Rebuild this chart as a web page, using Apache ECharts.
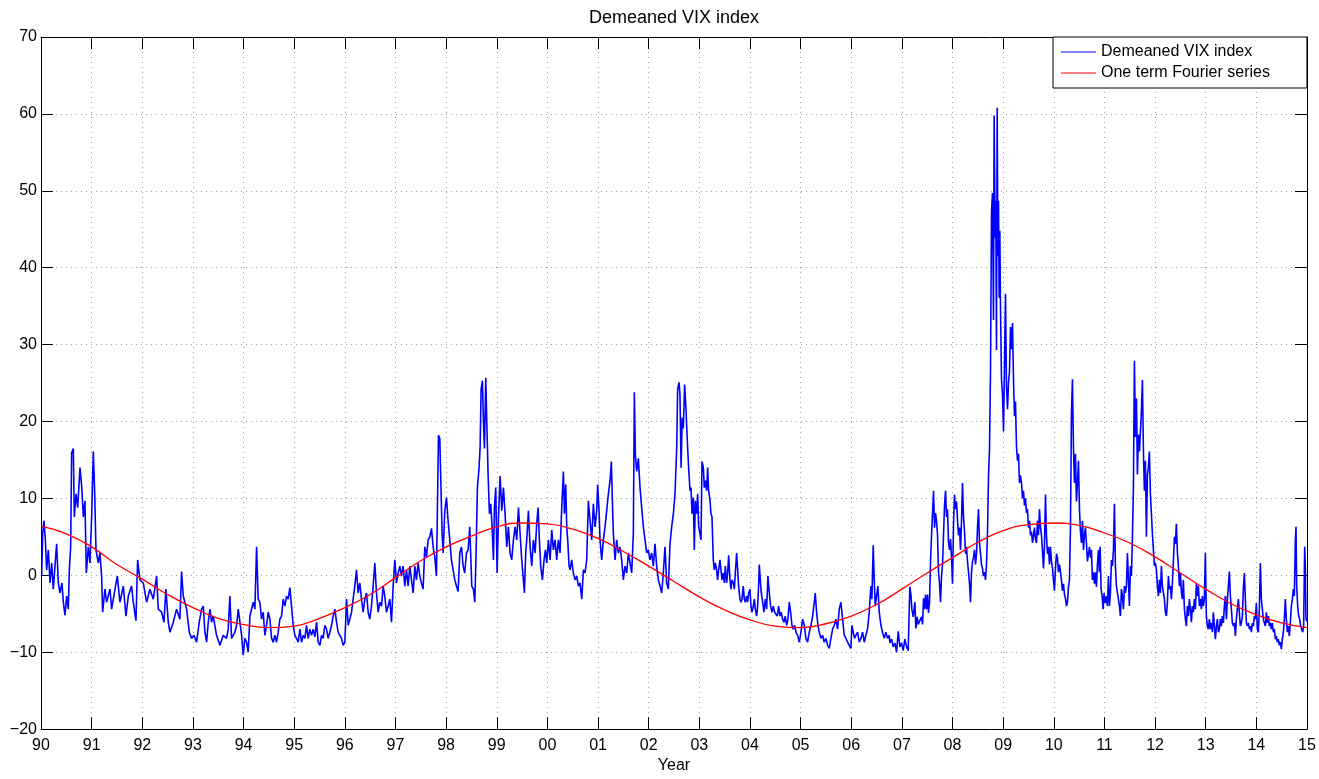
<!DOCTYPE html>
<html>
<head>
<meta charset="utf-8">
<script src="https://cdn.jsdelivr.net/npm/echarts@6/dist/echarts.min.js"></script>
<style>
html,body{margin:0;padding:0;background:#ffffff;}
#chart{width:1319px;height:779px;}
</style>
</head>
<body>
<div id="chart"></div>
<script>
// ---- Data (x = years since 1990, y = demeaned VIX level) ----
const startYear = 1990;
const yearSpan = [0, 25];
const valueRange = [-20, 70];
const seriesNames = ['Demeaned VIX index', 'One term Fourier series'];

const vixPoints = [
[0.013,-0.1],[0.033,5.4],[0.059,7.1],[0.086,4.6],[0.112,0.7],[0.145,3.3],[0.178,-1.0],[0.211,1.6],[0.243,-1.8],[0.276,1.2],[0.309,4.1],[0.342,-1.0],[0.375,-2.3],[0.414,-1.0],[0.441,-3.5],[0.474,-5.2],[0.507,-2.7],[0.539,-4.4],[0.559,0.7],[0.586,3.7],[0.605,15.9],[0.638,16.5],[0.658,7.6],[0.691,10.6],[0.724,8.8],[0.770,14.0],[0.803,11.6],[0.836,7.6],[0.868,9.7],[0.895,0.3],[0.934,3.7],[0.967,1.6],[1.0,7.6],[1.033,16.1],[1.059,11.0],[1.086,3.3],[1.132,1.6],[1.164,2.9],[1.197,-0.1],[1.217,-4.8],[1.263,-1.8],[1.296,-3.5],[1.362,-1.8],[1.395,-4.4],[1.461,-1.8],[1.507,-0.1],[1.559,-3.5],[1.625,-1.4],[1.678,-5.3],[1.724,-2.7],[1.789,-1.4],[1.822,-3.5],[1.875,-5.9],[1.908,2.0],[1.954,-0.6],[2.020,-1.0],[2.086,-3.5],[2.151,-1.8],[2.217,-3.1],[2.283,-0.1],[2.316,-4.4],[2.382,-4.8],[2.428,-6.1],[2.467,-1.8],[2.513,-6.1],[2.546,-7.4],[2.612,-6.1],[2.678,-4.4],[2.743,-5.7],[2.776,0.5],[2.809,-2.7],[2.875,-4.4],[2.928,-7.4],[2.974,-8.2],[3.020,-7.8],[3.072,-8.7],[3.125,-6.1],[3.171,-4.4],[3.204,-4.0],[3.237,-7.4],[3.270,-8.7],[3.303,-6.1],[3.336,-4.4],[3.368,-6.1],[3.401,-5.3],[3.467,-7.8],[3.533,-9.1],[3.599,-7.8],[3.664,-8.2],[3.697,-7.0],[3.730,-2.7],[3.763,-8.2],[3.829,-7.4],[3.862,-6.5],[3.895,-4.4],[3.928,-6.1],[3.961,-7.8],[3.993,-10.4],[4.026,-8.2],[4.059,-8.7],[4.092,-10.0],[4.125,-5.3],[4.191,-3.5],[4.224,-4.4],[4.257,3.7],[4.289,-3.1],[4.322,-3.5],
[4.355,-5.7],[4.388,-4.8],[4.421,-7.8],[4.454,-6.5],[4.487,-4.8],[4.520,-5.7],[4.553,-8.2],[4.586,-8.7],[4.618,-7.8],[4.651,-8.7],[4.684,-7.4],[4.717,-5.7],[4.750,-5.3],[4.783,-3.1],[4.816,-4.0],[4.849,-2.7],[4.882,-3.1],[4.914,-1.6],[4.947,-4.0],[4.980,-6.5],[5.013,-7.8],[5.046,-8.2],[5.079,-8.7],[5.112,-7.0],[5.145,-8.7],[5.178,-7.8],[5.211,-8.2],[5.243,-6.5],[5.276,-8.2],[5.309,-7.0],[5.342,-7.8],[5.375,-7.0],[5.408,-8.0],[5.441,-6.1],[5.474,-8.7],[5.507,-9.1],[5.539,-7.8],[5.572,-8.2],[5.605,-6.5],[5.638,-7.0],[5.671,-8.2],[5.704,-7.4],[5.737,-6.5],[5.770,-5.3],[5.803,-4.4],[5.836,-6.1],[5.868,-7.4],[5.901,-7.8],[5.934,-8.2],[5.967,-9.1],[6.000,-8.7],[6.033,-3.1],[6.066,-6.5],[6.099,-5.7],[6.132,-4.8],[6.164,-3.1],[6.197,-1.4],[6.230,0.7],[6.263,-2.3],[6.296,-1.0],[6.329,-3.1],[6.362,-4.8],[6.395,-3.1],[6.428,-2.3],[6.461,-4.8],[6.493,-5.7],[6.526,-4.0],[6.559,-1.4],[6.592,1.6],[6.625,-2.3],[6.658,-4.8],[6.691,-3.5],[6.724,-4.0],[6.757,-1.4],[6.789,-2.7],[6.822,-4.8],[6.855,-4.0],[6.888,-3.1],[6.921,-6.1],[6.954,-1.4],[6.987,2.0],[7.020,-1.0],[7.053,0.3],[7.086,1.2],[7.118,-0.1],[7.151,1.2],[7.184,-1.4],[7.217,0.7],[7.250,-1.4],[7.283,1.2],[7.316,-0.6],[7.349,-2.3],[7.382,1.2],[7.414,-0.6],[7.447,1.6],[7.480,-0.1],[7.513,-1.0],[7.546,-1.8],[7.579,3.7],[7.612,2.4],[7.645,4.6],[7.678,5.0],[7.711,6.1],[7.743,3.7],[7.776,2.4],[7.809,-0.1],[7.829,-0.3],[7.849,18.2],[7.875,17.8],[7.895,12.3],[7.921,5.4],[7.941,2.9],[7.974,8.4],[8.007,10.1],[8.039,7.1],[8.072,4.6],[8.105,2.0],[8.138,0.7],[8.171,-0.6],[8.204,-1.4],[8.237,-2.1],[8.270,2.9],[8.303,3.7],[8.336,1.2],[8.368,0.3],[8.401,2.9],[8.434,3.3],[8.467,6.3],
[8.507,-1.4],[8.539,-1.8],[8.566,-3.5],[8.592,2.9],[8.618,11.4],[8.645,13.5],[8.671,16.5],[8.691,24.2],[8.717,25.3],[8.737,20.0],[8.757,16.5],[8.783,25.7],[8.803,20.0],[8.829,13.1],[8.855,8.0],[8.882,9.3],[8.908,6.3],[8.934,2.0],[8.954,8.8],[8.980,11.4],[9.007,0.3],[9.033,7.4],[9.066,12.9],[9.099,8.4],[9.132,11.4],[9.164,8.0],[9.197,3.7],[9.230,6.3],[9.263,2.9],[9.296,2.0],[9.329,4.6],[9.362,6.3],[9.395,4.6],[9.428,8.8],[9.461,5.4],[9.493,2.0],[9.526,-0.6],[9.546,-2.3],[9.572,2.9],[9.592,4.6],[9.625,8.4],[9.658,3.7],[9.691,1.2],[9.724,4.6],[9.757,2.9],[9.789,6.7],[9.816,8.8],[9.842,4.6],[9.868,1.2],[9.901,-0.6],[9.934,2.0],[9.961,3.3],[9.987,1.6],[10.020,4.6],[10.053,2.0],[10.086,5.9],[10.118,3.3],[10.151,4.6],[10.184,2.0],[10.217,4.6],[10.250,2.9],[10.283,8.8],[10.316,13.5],[10.336,8.0],[10.362,11.8],[10.382,6.3],[10.401,4.6],[10.428,1.2],[10.447,0.7],[10.480,2.0],[10.513,0.3],[10.546,-0.6],[10.579,-0.1],[10.612,-1.4],[10.645,-1.0],[10.678,-3.1],[10.711,0.7],[10.743,0.3],[10.776,2.0],[10.809,9.7],[10.842,7.1],[10.875,4.6],[10.908,9.3],[10.941,6.3],[10.974,8.4],[10.993,11.8],[11.020,8.4],[11.039,4.6],[11.072,2.0],[11.105,4.6],[11.138,6.3],[11.171,8.4],[11.204,10.6],[11.237,12.3],[11.263,14.8],[11.283,9.7],[11.303,5.4],[11.336,2.0],[11.368,4.6],[11.401,2.9],[11.434,3.7],[11.467,2.0],[11.500,-0.6],[11.533,1.2],[11.566,0.3],[11.599,2.9],[11.632,1.6],[11.664,0.3],[11.697,5.4],[11.717,23.8],[11.737,15.7],[11.763,13.5],[11.796,15.2],[11.829,11.4],[11.862,8.8],[11.895,6.3],[11.928,4.6],[11.961,2.9],[11.993,3.3],[12.026,2.0],[12.059,2.9],[12.092,1.2],[12.125,4.1],[12.158,1.2],[12.191,-0.6],[12.224,-1.4],[12.257,-2.3],[12.289,0.3],[12.322,3.7],[12.355,-1.0],[12.388,-1.8],[12.421,4.1],[12.454,6.3],[12.487,8.0],[12.520,10.6],[12.553,16.5],[12.572,24.2],[12.599,25.1],[12.618,23.5],[12.640,14.0],[12.662,20.5],[12.684,19.1],[12.710,24.8],[12.737,21.5],
[12.770,16.5],[12.789,14.0],[12.816,11.0],[12.836,11.4],[12.855,8.0],[12.882,10.1],[12.901,3.3],[12.921,9.7],[12.947,8.0],[12.967,10.6],[12.987,6.3],[13.013,5.4],[13.033,4.6],[13.053,14.8],[13.079,14.0],[13.099,11.4],[13.118,12.3],[13.145,11.0],[13.164,14.0],[13.184,11.0],[13.211,9.7],[13.230,8.0],[13.250,7.6],[13.276,2.0],[13.296,0.7],[13.316,1.6],[13.342,0.7],[13.362,-0.6],[13.382,0.7],[13.408,2.0],[13.428,0.7],[13.447,-0.6],[13.474,0.3],[13.493,-1.0],[13.513,1.2],[13.539,-1.0],[13.559,0.3],[13.579,2.6],[13.605,-0.6],[13.625,-1.8],[13.645,-0.6],[13.671,-1.0],[13.691,-1.8],[13.711,0.3],[13.737,2.9],[13.757,0.7],[13.776,-1.4],[13.803,-3.1],[13.822,-3.5],[13.842,-3.1],[13.868,-1.4],[13.888,-3.1],[13.908,-3.5],[13.934,-2.7],[13.954,-3.5],[13.974,-2.3],[14.000,-1.8],[14.020,-4.0],[14.039,-4.8],[14.066,-4.0],[14.086,-3.1],[14.105,-4.4],[14.132,-5.3],[14.151,-4.0],[14.171,-1.4],[14.184,1.4],[14.204,-0.6],[14.224,-2.3],[14.250,-3.5],[14.276,-4.8],[14.303,-3.1],[14.329,-4.4],[14.355,-0.1],[14.382,-2.3],[14.408,-4.0],[14.434,-4.8],[14.461,-4.0],[14.487,-4.8],[14.513,-4.8],[14.539,-5.3],[14.566,-4.0],[14.592,-5.3],[14.618,-4.8],[14.645,-5.7],[14.671,-6.1],[14.697,-5.3],[14.724,-6.5],[14.750,-5.7],[14.776,-3.5],[14.803,-4.8],[14.829,-6.5],[14.855,-7.0],[14.882,-6.5],[14.908,-7.4],[14.941,-7.8],[14.974,-8.7],[15.007,-7.4],[15.039,-5.7],[15.072,-6.5],[15.105,-8.2],[15.138,-8.7],[15.171,-7.4],[15.204,-6.5],[15.237,-5.3],[15.270,-3.5],[15.289,-2.3],[15.316,-4.8],[15.342,-6.5],[15.368,-7.4],[15.401,-8.2],[15.434,-7.8],[15.467,-8.7],[15.500,-8.2],[15.533,-9.1],[15.566,-9.5],[15.599,-8.2],[15.632,-7.0],[15.664,-6.5],[15.697,-5.7],[15.730,-7.0],[15.763,-4.4],[15.796,-3.5],[15.829,-5.7],[15.862,-7.8],[15.895,-8.2],[15.928,-8.7],[15.961,-9.1],[15.993,-9.5],[16.013,-6.5],[16.039,-7.4],[16.066,-8.2],[16.092,-7.8],[16.125,-7.4],[16.158,-8.7],[16.191,-8.2],[16.224,-7.4],[16.257,-8.7],[16.289,-7.8],[16.322,-7.0],[16.355,-4.8],[16.388,-1.4],[16.408,-3.1],[16.434,3.9],[16.454,-0.6],[16.474,-4.0],[16.500,-2.7],[16.526,-1.4],[16.553,-4.8],[16.586,-6.5],[16.618,-7.4],[16.651,-8.2],[16.684,-7.4],[16.717,-8.2],[16.750,-7.8],
[16.763,-8.8],[16.796,-8.3],[16.829,-9.3],[16.862,-8.8],[16.895,-10.0],[16.928,-7.3],[16.961,-9.3],[16.993,-8.8],[17.026,-9.8],[17.059,-8.3],[17.092,-9.3],[17.125,-9.8],[17.145,-4.4],[17.158,-1.5],[17.178,-2.5],[17.197,-4.4],[17.224,-5.4],[17.257,-3.5],[17.276,-6.9],[17.303,-5.4],[17.322,-6.4],[17.355,-5.9],[17.388,-5.4],[17.408,-6.4],[17.428,-3.0],[17.447,-4.4],[17.467,-2.5],[17.487,-4.4],[17.507,-2.5],[17.526,-4.9],[17.546,-3.5],[17.566,1.8],[17.586,5.2],[17.605,8.1],[17.625,11.0],[17.645,6.2],[17.664,8.1],[17.684,7.1],[17.704,5.2],[17.724,0.4],[17.743,-1.0],[17.763,-3.5],[17.783,-0.1],[17.803,1.4],[17.822,5.2],[17.842,9.1],[17.862,11.0],[17.882,7.6],[17.901,8.6],[17.921,4.3],[17.941,3.3],[17.961,4.7],[17.980,2.3],[18.000,-1.1],[18.020,6.7],[18.039,10.5],[18.059,8.6],[18.079,9.6],[18.099,7.1],[18.118,5.2],[18.138,6.2],[18.158,3.3],[18.178,7.1],[18.197,12.0],[18.217,7.6],[18.237,5.7],[18.257,2.8],[18.276,3.7],[18.296,1.8],[18.316,0.4],[18.336,-1.1],[18.355,-3.5],[18.375,0.4],[18.395,1.8],[18.414,2.3],[18.434,3.3],[18.454,1.4],[18.474,2.8],[18.493,6.2],[18.513,8.6],[18.533,4.2],[18.553,2.8],[18.572,1.4],[18.592,0.9],[18.612,-0.1],[18.632,0.4],[18.651,-0.6],[18.671,1.4],[18.691,5.7],[18.711,12.9],[18.730,16.3],[18.750,26.5],[18.770,47.2],[18.789,49.7],[18.809,33.2],[18.822,59.8],[18.842,43.9],[18.855,48.7],[18.868,29.3],[18.882,60.8],[18.895,41.5],[18.908,48.7],[18.921,36.1],[18.934,44.8],[18.947,35.2],[18.967,25.5],[18.987,23.6],[19.007,18.7],[19.026,27.0],[19.046,36.6],[19.066,24.5],[19.086,21.6],[19.105,25.0],[19.125,26.5],[19.145,32.3],[19.164,29.4],[19.184,32.8],[19.204,25.5],[19.224,20.7],[19.243,22.6],[19.263,16.8],[19.283,14.9],[19.303,15.8],[19.322,12.0],[19.342,13.0],[19.362,12.0],[19.382,10.0],[19.401,11.0],[19.421,9.1],[19.441,10.0],[19.461,8.1],[19.480,8.6],[19.500,6.2],[19.520,7.1],[19.539,5.2],[19.559,5.7],[19.579,4.2],[19.599,5.2],[19.618,6.2],[19.638,4.7],[19.658,4.2],[19.678,7.1],[19.697,5.2],[19.717,8.6],[19.737,6.2],[19.757,5.2],[19.776,3.3],[19.796,0.9],[19.816,3.8],[19.836,10.5],[19.855,5.2],[19.875,2.8],[19.895,3.7],[19.914,1.4],[19.934,3.7],[19.954,1.8],[19.974,0.9],[19.993,-0.6],[20.013,-2.0],[20.033,0.9],[20.053,2.8],[20.072,2.3],[20.092,0.4],[20.112,1.4],[20.132,0.4],[20.151,-0.6],[20.171,-2.0],[20.191,-1.1],[20.211,-2.5],[20.230,-3.0],[20.250,-4.0],[20.270,-3.5],[20.289,-1.5],[20.309,-0.6],[20.329,6.2],[20.349,21.2],[20.368,25.5],[20.388,16.8],[20.408,12.0],[20.428,15.8],[20.447,9.6],[20.467,12.0],[20.487,14.9],[20.507,8.6],[20.526,5.7],[20.546,4.2],[20.566,7.1],[20.586,3.3],[20.605,5.2],[20.625,6.2],[20.645,4.2],[20.664,1.8],[20.684,2.8],[20.704,3.7],[20.724,2.3],[20.743,3.3],[20.763,-0.6],[20.783,0.4],[20.803,-1.1],[20.822,0.4],[20.842,-1.5],[20.862,1.4],[20.882,3.3],[20.901,0.4],
[20.914,3.7],[20.934,-1.8],[20.954,-2.7],[20.974,-4.4],[20.993,-2.3],[21.013,-3.6],[21.039,-2.7],[21.059,-4.0],[21.079,-0.1],[21.099,-4.0],[21.118,-2.3],[21.138,2.0],[21.158,1.2],[21.178,3.3],[21.197,9.3],[21.217,1.2],[21.237,-1.4],[21.257,-2.3],[21.276,-3.1],[21.296,-4.0],[21.316,-5.3],[21.336,-1.8],[21.355,-2.7],[21.375,-4.4],[21.395,-1.4],[21.414,-2.3],[21.434,-1.4],[21.454,2.9],[21.474,-0.6],[21.493,-4.0],[21.513,1.2],[21.533,-0.1],[21.553,5.0],[21.572,11.4],[21.592,27.9],[21.612,18.0],[21.632,23.0],[21.651,13.1],[21.671,18.3],[21.691,16.1],[21.711,18.7],[21.730,21.3],[21.750,25.4],[21.770,16.1],[21.789,11.0],[21.809,14.9],[21.829,5.0],[21.849,13.1],[21.868,14.0],[21.888,16.1],[21.908,10.5],[21.928,8.0],[21.947,5.4],[21.967,3.3],[21.987,1.2],[22.007,1.6],[22.026,0.7],[22.046,-1.4],[22.066,-2.7],[22.086,-0.6],[22.105,-2.3],[22.125,1.2],[22.145,-1.4],[22.164,-1.4],[22.184,-3.1],[22.204,-4.8],[22.224,-5.3],[22.243,-3.6],[22.263,-0.1],[22.283,-1.8],[22.303,-1.4],[22.322,-3.1],[22.342,-1.0],[22.362,2.0],[22.382,5.0],[22.401,4.1],[22.421,6.7],[22.441,2.9],[22.461,1.2],[22.480,-1.4],[22.500,0.3],[22.520,-2.3],[22.539,-3.1],[22.559,-0.6],[22.579,-4.4],[22.599,-5.7],[22.618,-6.6],[22.638,-4.0],[22.658,-5.3],[22.678,-3.1],[22.697,-4.4],[22.717,-6.1],[22.737,-4.0],[22.757,-4.8],[22.776,-3.1],[22.796,-4.4],[22.816,-1.0],[22.836,-2.7],[22.855,-1.4],[22.875,-4.0],[22.895,-3.1],[22.914,-4.4],[22.934,-2.7],[22.954,-4.0],[22.974,-3.1],[22.993,2.9],[23.013,-5.3],[23.033,-6.6],[23.053,-7.0],[23.072,-5.7],[23.092,-7.0],[23.112,-6.2],[23.132,-7.4],[23.151,-4.8],[23.171,-6.6],[23.191,-8.3],[23.211,-6.6],[23.230,-5.7],[23.250,-7.4],[23.270,-7.0],[23.289,-5.7],[23.309,-6.6],[23.329,-5.3],[23.349,-6.2],[23.368,-4.0],[23.388,-2.7],[23.408,-5.7],[23.428,-3.1],[23.447,-1.4],[23.467,0.5],[23.487,-2.7],[23.507,-4.4],[23.526,-6.2],[23.546,-6.6],[23.566,-6.2],[23.586,-7.9],[23.605,-5.7],[23.625,-4.4],[23.645,-3.1],[23.664,-4.8],[23.684,-6.6],[23.704,-6.2],[23.724,-5.3],[23.743,-1.8],[23.763,0.3],[23.783,-3.1],[23.803,-6.2],[23.822,-6.6],[23.842,-6.2],[23.862,-7.0],[23.882,-6.6],[23.901,-7.4],[23.921,-6.2],[23.941,-6.6],[23.961,-5.3],[23.980,-5.7],[24.000,-3.6],[24.020,-7.0],[24.039,-7.4],[24.059,-4.4],[24.079,1.6],[24.099,-3.1],[24.118,-4.4],[24.138,-5.7],[24.158,-6.2],[24.178,-6.6],[24.197,-4.8],[24.217,-6.2],[24.237,-5.3],[24.257,-6.6],[24.276,-6.2],[24.296,-7.0],[24.316,-6.2],[24.336,-7.4],[24.355,-7.0],[24.375,-8.3],[24.395,-7.9],[24.414,-8.7],[24.434,-8.3],[24.454,-9.1],[24.474,-8.7],[24.493,-9.6],[24.513,-8.3],[24.533,-7.4],[24.553,-5.7],[24.572,-3.1],[24.592,-5.7],[24.612,-7.4],[24.632,-6.6],[24.651,-7.9],[24.671,-6.2],[24.691,-4.0],[24.711,-3.1],[24.730,-1.8],[24.750,-2.7],[24.770,4.6],[24.783,6.3],[24.796,-1.4],[24.816,-4.0],[24.836,-5.3],[24.855,-5.7],[24.875,-6.6],[24.895,-7.0],[24.914,-7.4],[24.934,-6.6],[24.954,3.7],[24.967,1.2],[24.980,-5.7],[25.0,-6.0]
];

const fourierPoints = [
[0,6.4],[0.5,5.4],[1,3.7],[1.5,1.4],[2,-0.5],[2.5,-2.5],[3,-4.2],[3.5,-5.6],[4,-6.4],[4.5,-6.8],
[5,-6.6],[5.5,-5.6],[6,-4.2],[6.5,-2.5],[7,-0.3],[7.5,1.9],[8,3.7],[8.5,5.1],[9,6.3],[9.5,6.8],
[10,6.7],[10.5,6.0],[11,4.8],[11.5,3.1],[12,1.2],[12.5,-0.8],[13,-2.8],[13.5,-4.5],[14,-5.8],[14.5,-6.6],
[15,-6.8],[15.5,-6.3],[16,-5.3],[16.5,-3.8],[17,-1.8],[17.5,0.3],[18,2.3],[18.5,4.3],[19,5.8],[19.5,6.6],
[20,6.8],[20.5,6.5],[21,5.5],[21.5,4.2],[22,2.4],[22.5,0.3],[23,-1.8],[23.5,-3.7],[24,-5.1],[24.5,-6.2],[25,-6.8]
];

// ---- Chart ----
const FONT = 'Liberation Sans, Arial, Helvetica, sans-serif';
const chart = echarts.init(document.getElementById('chart'), null, {renderer: 'canvas'});

const yearLabel = v => String((startYear + Math.round(v)) % 100).padStart(2, '0');
const valueLabel = v => (v < 0 ? '\u2212' + (-v) : String(v));

const commonAxis = {
  axisLine: {show: true, onZero: false, lineStyle: {color: '#000', width: 1}},
  axisTick: {show: true, inside: true, length: 12, lineStyle: {color: '#000', width: 1}},
};

chart.setOption({
  animation: false,
  backgroundColor: '#ffffff',
  title: {
    text: 'Demeaned VIX index',
    left: 674, top: 9, padding: 0, textAlign: 'center',
    textStyle: {fontFamily: FONT, fontSize: 18, fontWeight: 'normal', color: '#000'}
  },
  grid: {left: 41, right: 12, top: 37, bottom: 41, containLabel: false},
  legend: {
    data: seriesNames,
    orient: 'vertical',
    left: 1053, top: 37,
    padding: [7, 37, 7, 8],
    itemGap: 5,
    itemWidth: 35, itemHeight: 1,
    icon: 'rect',
    backgroundColor: '#ffffff',
    borderColor: '#000', borderWidth: 1, borderRadius: 0,
    textStyle: {fontFamily: FONT, fontSize: 16, color: '#000'}
  },
  xAxis: [
    Object.assign({}, commonAxis, {
      type: 'value', position: 'bottom', min: yearSpan[0], max: yearSpan[1], interval: 1,
      axisLabel: {formatter: yearLabel, color: '#000', fontFamily: FONT, fontSize: 16, margin: 8},
      splitLine: {show: true, lineStyle: {color: '#a0a0a0', width: 1, type: [1, 4]}},
      name: 'Year', nameLocation: 'middle', nameGap: 22,
      nameTextStyle: {fontFamily: FONT, fontSize: 16, color: '#000'}
    }),
    Object.assign({}, commonAxis, {
      type: 'value', position: 'top', min: yearSpan[0], max: yearSpan[1], interval: 1,
      axisLabel: {show: false}, splitLine: {show: false}
    })
  ],
  yAxis: [
    Object.assign({}, commonAxis, {
      type: 'value', position: 'left', min: valueRange[0], max: valueRange[1], interval: 10,
      axisLabel: {formatter: valueLabel, color: '#000', fontFamily: FONT, fontSize: 16, margin: 4},
      splitLine: {show: true, lineStyle: {color: '#a0a0a0', width: 1, type: [1, 4]}}
    }),
    Object.assign({}, commonAxis, {
      type: 'value', position: 'right', min: valueRange[0], max: valueRange[1], interval: 10,
      axisLabel: {show: false}, splitLine: {show: false}
    })
  ],
  series: [
    {
      name: seriesNames[0], type: 'line', data: vixPoints,
      xAxisIndex: 0, yAxisIndex: 0,
      symbol: 'none', showSymbol: false,
      lineStyle: {color: '#0000ff', width: 1.6},
      itemStyle: {color: '#0000ff'},
      z: 2
    },
    {
      name: seriesNames[1], type: 'line', data: fourierPoints,
      xAxisIndex: 0, yAxisIndex: 0,
      symbol: 'none', showSymbol: false, smooth: 0.5,
      lineStyle: {color: '#ff0000', width: 1.3},
      itemStyle: {color: '#ff0000'},
      z: 3
    }
  ]
});
</script>
</body>
</html>
